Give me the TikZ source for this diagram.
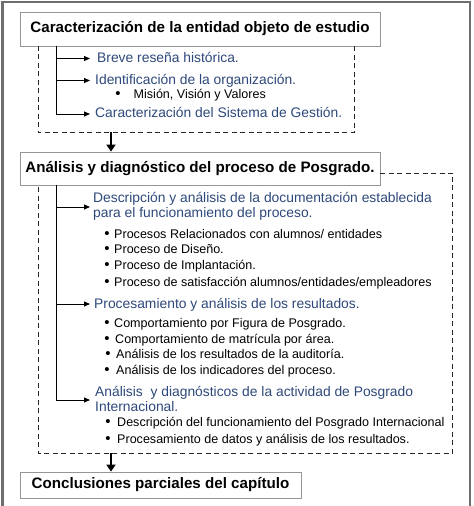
\documentclass[tikz,border=0pt]{standalone}
\usepackage{fontspec}
\setmainfont{Liberation Sans}
\usetikzlibrary{arrows.meta}
\definecolor{headblue}{RGB}{45,72,122}
\definecolor{boxgray}{RGB}{150,150,150}
\definecolor{framegray}{RGB}{110,110,110}
\newcommand{\bigbul}{{\fontsize{15}{15}\selectfont\textbullet}}
\begin{document}
\begin{tikzpicture}[x=1bp,y=-1bp,
  titlebox/.style={draw=boxgray, line width=0.8bp, fill=white, inner sep=0pt,
    font=\fontsize{15.2}{18}\selectfont\bfseries},
  headtext/.style={anchor=base west, inner sep=0pt, text=headblue, align=left,
    font=\fontsize{13.9}{14.4}\selectfont},
  itemtext/.style={anchor=base west, inner sep=0pt, text=black,
    font=\fontsize{12.6}{15}\selectfont},
  dashbox/.style={draw=black!85, line width=0.9bp, dash pattern=on 5bp off 3.5bp},
  trunk/.style={draw=black, line width=0.9bp},
  branch/.style={draw=black, line width=0.9bp, -{Triangle[length=6bp,width=5bp]}},
  flow/.style={draw=black, line width=2bp, -{Triangle[length=7bp,width=9bp]}}
]
\useasboundingbox (0,0) rectangle (474,506);
% outer frame
\begin{scope}
\clip (0,0) rectangle (474,506);
\draw[framegray, line width=2bp] (2.5,2) rectangle (470,520);
\end{scope}

% ---- box 1 ----
\node[titlebox, minimum width=360bp, minimum height=34bp] (b1) at (200,29)
  {Caracterización de la entidad objeto de estudio};
\coordinate (d1a) at (38,45.7);
\coordinate (d1b) at (38,132.5);
\coordinate (d1c) at (354.3,132.5);
\coordinate (d1d) at (354.3,45.7);
\draw[dashbox] (d1a) -- (d1b) -- (d1c) -- (d1d);

\coordinate (t1top) at (56,45.7);
\coordinate (t1a) at (56,58.5);
\coordinate (t1b) at (56,80.5);
\coordinate (t1c) at (56,114);
\draw[trunk] (t1top) -- (t1c);

\node[headtext] (h11) at (97,62.5) {Breve reseña histórica.};
\node[headtext] (h12) at (95,84.5) {Identificación de la organización.};
\node[itemtext] (i121) at (133.5,99) {\llap{\bigbul\hspace{13bp}}Misión, Visión y Valores};
\node[headtext] (h13) at (95,118) {Caracterización del Sistema de Gestión.};
\coordinate (e11) at (90,58.5);
\coordinate (e12) at (90,80.5);
\coordinate (e13) at (90,114);
\draw[branch] (t1a) -- (e11);
\draw[branch] (t1b) -- (e12);
\draw[branch] (t1c) -- (e13);

% ---- box 2 ----
\node[titlebox, minimum width=360bp, minimum height=33bp] (b2) at (200,168.5)
  {Análisis y diagnóstico del proceso de Posgrado.};
\coordinate (f1s) at (111,132.5);
\draw[flow] (f1s) -- (f1s |- b2.north);

\coordinate (d2a) at (380,173);
\coordinate (d2b) at (452.7,173);
\coordinate (d2c) at (452.7,453.3);
\coordinate (d2d) at (38,453.3);
\coordinate (d2e) at (38,185);
\draw[dashbox] (d2a) -- (d2b) -- (d2c) -- (d2d) -- (d2e);

\coordinate (t2top) at (56,185);
\coordinate (t2a) at (56,207);
\coordinate (t2b) at (56,304);
\coordinate (t2c) at (56,400);
\draw[trunk] (t2top) -- (t2c);

\node[headtext] (h21) at (93,217) {Descripción y análisis de la documentación establecida\\para el funcionamiento del proceso.};
\node[itemtext] (i211) at (114,238) {\llap{\bigbul\hspace{4.5bp}}Procesos Relacionados con alumnos/ entidades};
\node[itemtext] (i212) at (114,253) {\llap{\bigbul\hspace{4.5bp}}Proceso de Diseño.};
\node[itemtext] (i213) at (114,269) {\llap{\bigbul\hspace{4.5bp}}Proceso de Implantación.};
\node[itemtext] (i214) at (114,286) {\llap{\bigbul\hspace{4.5bp}}Proceso de satisfacción alumnos/entidades/empleadores};

\node[headtext] (h22) at (94,308.5) {Procesamiento y análisis de los resultados.};
\node[itemtext] (i221) at (114,327) {\llap{\bigbul\hspace{4.5bp}}Comportamiento por Figura de Posgrado.};
\node[itemtext] (i222) at (115,343) {\llap{\bigbul\hspace{5.5bp}}Comportamiento de matrícula por área.};
\node[itemtext] (i223) at (116,358) {\llap{\bigbul\hspace{5.5bp}}Análisis de los resultados de la auditoría.};
\node[itemtext] (i224) at (116,374) {\llap{\bigbul\hspace{6.5bp}}Análisis de los indicadores del proceso.};

\node[headtext] (h23) at (95,411) {Análisis\ \ y diagnósticos de la actividad de Posgrado\\Internacional.};
\node[itemtext] (i231) at (117,426) {\llap{\bigbul\hspace{6.5bp}}Descripción del funcionamiento del Posgrado Internacional};
\node[itemtext] (i232) at (117,443) {\llap{\bigbul\hspace{6.5bp}}Procesamiento de datos y análisis de los resultados.};

\coordinate (e21) at (90,207);
\coordinate (e22) at (90,304);
\coordinate (e23) at (90,400);
\draw[branch] (t2a) -- (e21);
\draw[branch] (t2b) -- (e22);
\draw[branch] (t2c) -- (e23);

% ---- box 3 ----
\node[titlebox, minimum width=281bp, minimum height=26bp] (b3) at (160.5,485)
  {Conclusiones parciales del capítulo};
\coordinate (f2s) at (111,453.3);
\draw[flow] (f2s) -- (f2s |- b3.north);
\end{tikzpicture}
\end{document}
